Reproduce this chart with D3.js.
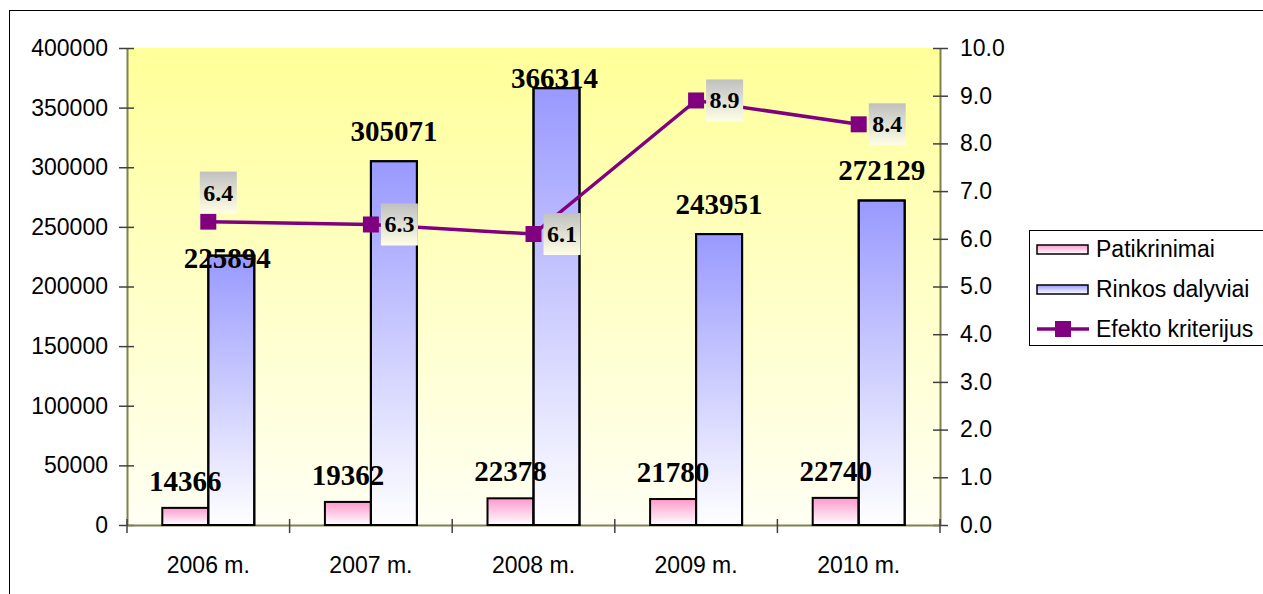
<!DOCTYPE html>
<html><head><meta charset="utf-8">
<script src="https://cdn.jsdelivr.net/npm/d3@7"></script>
<style>body{margin:0;background:#fff}svg{display:block}</style>
</head><body>
<svg id="c" width="1263" height="594"></svg>
<script>
const categories = ["2006 m.","2007 m.","2008 m.","2009 m.","2010 m."];
const patikrinimai = [14366, 19362, 22378, 21780, 22740];
const rinkosDalyviai = [225894, 305071, 366314, 243951, 272129];
const efektoKriterijus = [6.36, 6.3, 6.1, 8.9, 8.4];
const leftTicks = [0,50000,100000,150000,200000,250000,300000,350000,400000];
const rightTicks = [0,1,2,3,4,5,6,7,8,9,10];
const seriesNames = ["Patikrinimai","Rinkos dalyviai","Efekto kriterijus"];

// label placement tweaks (style)
const rinkosLabelDy = [12, -20, 0, -20, -20];
const rinkosLabelDx = [-4, 0, -2, 0, 0];

const svg = d3.select("#c");
const L = 127, R = 940, T = 48, B = 525;
const defs = svg.append("defs");
function vgrad(id, c1, c2){
  const g = defs.append("linearGradient").attr("id", id).attr("x1",0).attr("y1",0).attr("x2",0).attr("y2",1);
  g.append("stop").attr("offset","0%").attr("stop-color",c1);
  g.append("stop").attr("offset","100%").attr("stop-color",c2);
}
vgrad("bg","#FFFF99","#FFFFF4");
vgrad("gPink","#FF99CC","#FFFFFF");
vgrad("gBlue","#9999FF","#FFFFFF");
vgrad("gBox","#C0C0C0","#FFFFE6");

// outer frame
svg.append("rect").attr("x",9.5).attr("y",10.5).attr("width",1400).attr("height",700)
  .attr("fill","none").attr("stroke","#000").attr("stroke-width",1);

const x = d3.scaleBand().domain(categories).range([L,R]).padding(0);
const yL = d3.scaleLinear().domain([0,400000]).range([B,T]);
const yR = d3.scaleLinear().domain([0,10]).range([B,T]);
const bw = 46;
const sans = "'Liberation Sans', Arial, sans-serif";
const serif = "'Liberation Serif','Times New Roman',serif";

svg.append("rect").attr("x",L).attr("y",T).attr("width",R-L).attr("height",B-T).attr("fill","url(#bg)");

// axes
const axisColor = "#808050", tickColor = "#404040";
const gl = svg.append("g").attr("transform",`translate(${L},0)`)
  .call(d3.axisLeft(yL).tickValues(leftTicks).tickFormat(d3.format("d")).tickSizeInner(8).tickSizeOuter(0).tickPadding(11));
const gr = svg.append("g").attr("transform",`translate(${R},0)`)
  .call(d3.axisRight(yR).tickValues(rightTicks).tickFormat(d3.format(".1f")).tickSizeInner(8).tickSizeOuter(0).tickPadding(12));
const gb = svg.append("g").attr("transform",`translate(0,${B})`)
  .call(d3.axisBottom(x).tickSizeOuter(0).tickSize(0).tickPadding(32));
[gl,gr,gb].forEach(g=>{
  g.select(".domain").attr("stroke",axisColor).attr("stroke-width",2);
  g.selectAll("text").attr("font-family",sans).attr("font-size",23).attr("fill","#000");
});
gl.selectAll(".tick line").attr("x2",-8).attr("x1",7).attr("stroke",tickColor).attr("stroke-width",1.5);
gr.selectAll(".tick line").attr("x1",-7).attr("x2",8).attr("stroke",tickColor).attr("stroke-width",1.5);
// category separator ticks on bottom axis
const sepPos = d3.range(categories.length+1).map(i=>L + i*x.bandwidth());
svg.append("g").selectAll("line").data(sepPos).join("line")
  .attr("x1",d=>d).attr("x2",d=>d).attr("y1",B-6).attr("y2",B+8)
  .attr("stroke",tickColor).attr("stroke-width",1.5);

// bars
const cx = c => x(c) + x.bandwidth()/2;
svg.append("g").selectAll("rect").data(patikrinimai).join("rect")
  .attr("x",(d,i)=>cx(categories[i]) - bw).attr("width",bw)
  .attr("y",d=>yL(d)).attr("height",d=>B-yL(d))
  .attr("fill","url(#gPink)").attr("stroke","#000").attr("stroke-width",2);
svg.append("g").selectAll("rect").data(rinkosDalyviai).join("rect")
  .attr("x",(d,i)=>cx(categories[i])).attr("width",bw)
  .attr("y",d=>yL(d)).attr("height",d=>B-yL(d))
  .attr("fill","url(#gBlue)").attr("stroke","#000").attr("stroke-width",2);
// patikrinimai labels
svg.append("g").selectAll("text").data(patikrinimai).join("text")
  .attr("x",(d,i)=>cx(categories[i]) - bw/2).attr("y",d=>yL(d)-17)
  .attr("text-anchor","middle").attr("font-family",serif).attr("font-weight","bold").attr("font-size",29)
  .text(d=>d);
// blue bar outlines drawn again above the labels
svg.append("g").selectAll("rect").data(rinkosDalyviai).join("rect")
  .attr("x",(d,i)=>cx(categories[i])).attr("width",bw)
  .attr("y",d=>yL(d)).attr("height",d=>B-yL(d))
  .attr("fill","none").attr("stroke","#000").attr("stroke-width",2);

// line
const line = d3.line().x((d,i)=>cx(categories[i])).y(d=>yR(d));
svg.append("path").datum(efektoKriterijus).attr("d",line)
  .attr("fill","none").attr("stroke","#800080").attr("stroke-width",3.5);

// rinkos labels
svg.append("g").selectAll("text").data(rinkosDalyviai).join("text")
  .attr("x",(d,i)=>cx(categories[i]) + bw/2 + rinkosLabelDx[i]).attr("y",(d,i)=>yL(d)+rinkosLabelDy[i])
  .attr("text-anchor","middle").attr("font-family",serif).attr("font-weight","bold").attr("font-size",29)
  .text(d=>d);

// markers
svg.append("g").selectAll("rect").data(efektoKriterijus).join("rect")
  .attr("x",(d,i)=>cx(categories[i])-8).attr("y",d=>yR(d)-8).attr("width",16).attr("height",16)
  .attr("fill","#800080");

// line labels with boxes
const boxW = 37, boxH = 42;
const lbl = svg.append("g").selectAll("g").data(efektoKriterijus).join("g")
  .attr("transform",(d,i)=>{
    const px = cx(categories[i]), py = yR(d);
    return i===0 ? `translate(${px-boxW/2+10},${py-boxH-8})` : `translate(${px+10},${py-boxH/2})`;
  });
lbl.append("rect").attr("width",boxW).attr("height",boxH).attr("fill","url(#gBox)");
lbl.append("text").attr("x",boxW/2).attr("y",29).attr("text-anchor","middle")
  .attr("font-family",serif).attr("font-weight","bold").attr("font-size",24)
  .text(d=>d3.format(".1f")(d));

// legend
const lg = svg.append("g");
lg.append("rect").attr("x",1029.5).attr("y",230.5).attr("width",300).attr("height",115)
  .attr("fill","#fff").attr("stroke","#000").attr("stroke-width",1);
const rowY = [249, 289, 329];
lg.append("rect").attr("x",1037).attr("y",rowY[0]-4).attr("width",51).attr("height",9)
  .attr("fill","url(#gPink)").attr("stroke","#000").attr("stroke-width",1.5);
lg.append("rect").attr("x",1037).attr("y",rowY[1]-4).attr("width",51).attr("height",9)
  .attr("fill","url(#gBlue)").attr("stroke","#000").attr("stroke-width",1.5);
lg.append("line").attr("x1",1037).attr("x2",1089).attr("y1",rowY[2]).attr("y2",rowY[2])
  .attr("stroke","#800080").attr("stroke-width",3.5);
lg.append("rect").attr("x",1055).attr("y",rowY[2]-8).attr("width",16).attr("height",16).attr("fill","#800080");
lg.selectAll("text.l").data(seriesNames).join("text").attr("class","l")
  .attr("x",1096).attr("y",(d,i)=>rowY[i]+8)
  .attr("font-family",sans).attr("font-size",23)
  .text(d=>d);
</script>
</body></html>
